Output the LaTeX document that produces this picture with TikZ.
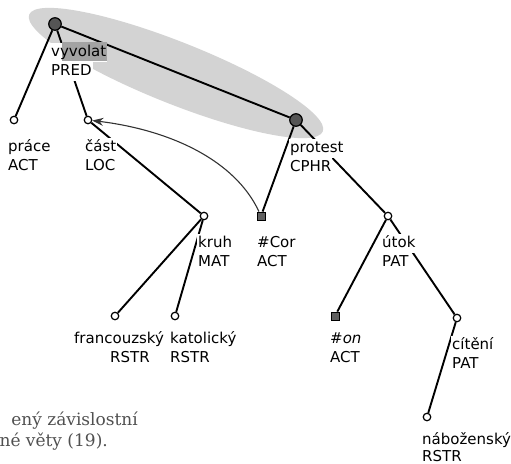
\documentclass[tikz,border=0pt]{standalone}
\usepackage{graphicx}
\usepackage{fontspec}
\setmainfont{DejaVu Sans}
\newfontfamily\capfont{DejaVu Serif}
\usetikzlibrary{arrows.meta,calc}
\definecolor{ellgray}{HTML}{D3D3D3}
\definecolor{hlgray}{HTML}{A3A3A3}
\definecolor{nodegray}{HTML}{555555}
\definecolor{sqgray}{HTML}{606060}
\definecolor{capgray}{HTML}{505050}
\definecolor{arrgray}{HTML}{333333}
\newcommand{\labfont}{\fontsize{15pt}{19pt}\selectfont}
\pgfdeclarelayer{ell}
\pgfdeclarelayer{edges}
\pgfsetlayers{ell,edges,main}
\tikzset{
  edge/.style={line width=1.9pt, black},
  arr/.style={line width=1.1pt, arrgray, -{Stealth[length=11pt,width=8pt]}},
  bignode/.style={circle, draw=black, line width=1.2pt, fill=nodegray, minimum size=12.5pt, inner sep=0pt},
  smallnode/.style={circle, draw=black, line width=1.2pt, fill=white, minimum size=7.5pt, inner sep=0pt},
  sqnode/.style={rectangle, draw=black, line width=0.8pt, fill=sqgray, minimum size=8pt, inner sep=0pt},
  lab/.style={anchor=base west, fill=white, inner xsep=1pt, inner ysep=2pt, text height=11.5pt, text depth=4pt, font=\labfont},
  captext/.style={anchor=base east, inner sep=0pt, text=capgray, font=\capfont},
}
\begin{document}
\begin{tikzpicture}[x=1pt,y=-1pt]
\useasboundingbox (0,0) rectangle (511,463);
\clip (0,0) rectangle (511,463);
% nodes
\node[bignode] (vyv) at (55,24) {};
\node[bignode] (prot) at (296,120) {};
\node[smallnode] (prace) at (14,120) {};
\node[smallnode] (cast) at (88,120) {};
\node[smallnode] (kruh) at (204,216) {};
\node[sqnode] (cor) at (261,216) {};
\node[smallnode] (utok) at (388,216) {};
\node[smallnode] (franc) at (115,316) {};
\node[smallnode] (katol) at (175,316) {};
\node[sqnode] (on) at (335,316) {};
\node[smallnode] (citeni) at (457,318) {};
\node[smallnode] (nabo) at (427,417) {};
% ellipse
\begin{pgfonlayer}{ell}
\fill[ellgray, rotate around={-21.7:(176,73)}] (176,73) ellipse [x radius=158, y radius=31];
\end{pgfonlayer}
% edges
\begin{pgfonlayer}{edges}
\draw[edge] (vyv) -- (prace);
\draw[edge] (vyv) -- (cast);
\draw[edge] (vyv) -- (prot);
\draw[edge] (cast) -- (kruh);
\draw[edge] (prot) -- (cor);
\draw[edge] (prot) -- (utok);
\draw[edge] (kruh) -- (franc);
\draw[edge] (kruh) -- (katol);
\draw[edge] (utok) -- (on);
\draw[edge] (utok) -- (citeni);
\draw[edge] (citeni) -- (nabo);
\draw[arr] (cor) .. controls ($(cor)+(-26,-56)$) and ($(cast)+(82,10)$) .. (cast);
\end{pgfonlayer}
% labels
\node[lab] (vyv-a) at (50,56) {\rlap{\hspace{11pt}\textcolor{hlgray}{\rule[-5pt]{45pt}{19pt}}}vyvolat};
\node[lab] (vyv-b) at (50,75) {PRED};
\node[lab] (prace-a) at (7,151) {práce};
\node[lab] (prace-b) at (7,170) {ACT};
\node[lab] (cast-a) at (84,151) {část};
\node[lab] (cast-b) at (84,170) {LOC};
\node[lab] (prot-a) at (289,152) {protest};
\node[lab] (prot-b) at (289,171) {CPHR};
\node[lab] (kruh-a) at (197,247) {kruh};
\node[lab] (kruh-b) at (197,266) {MAT};
\node[lab] (cor-a) at (256,247) {\#Cor};
\node[lab] (cor-b) at (256,266) {ACT};
\node[lab] (utok-a) at (381,247) {útok};
\node[lab] (utok-b) at (381,266) {PAT};
\node[lab] (franc-a) at (73,343) {francouzský};
\node[lab] (franc-b) at (109,362) {RSTR};
\node[lab] (katol-a) at (169,343) {katolický};
\node[lab] (katol-b) at (169,362) {RSTR};
\node[lab] (on-a) at (329,343) {\#\textit{on}};
\node[lab] (on-b) at (329,362) {ACT};
\node[lab] (citeni-a) at (451,349) {cítění};
\node[lab] (citeni-b) at (451,368) {PAT};
\node[lab, inner xsep=0pt] (nabo-a) at (422,444) {náboženský};
\node[lab] (nabo-b) at (421,461) {RSTR};
% caption fragment
\node[captext] (cap1) at (138,425) {\scalebox{1.7}{ený závislostní}};
\node[captext] (cap2) at (108,446) {\scalebox{1.7}{né věty (19).}};
\end{tikzpicture}
\end{document}
